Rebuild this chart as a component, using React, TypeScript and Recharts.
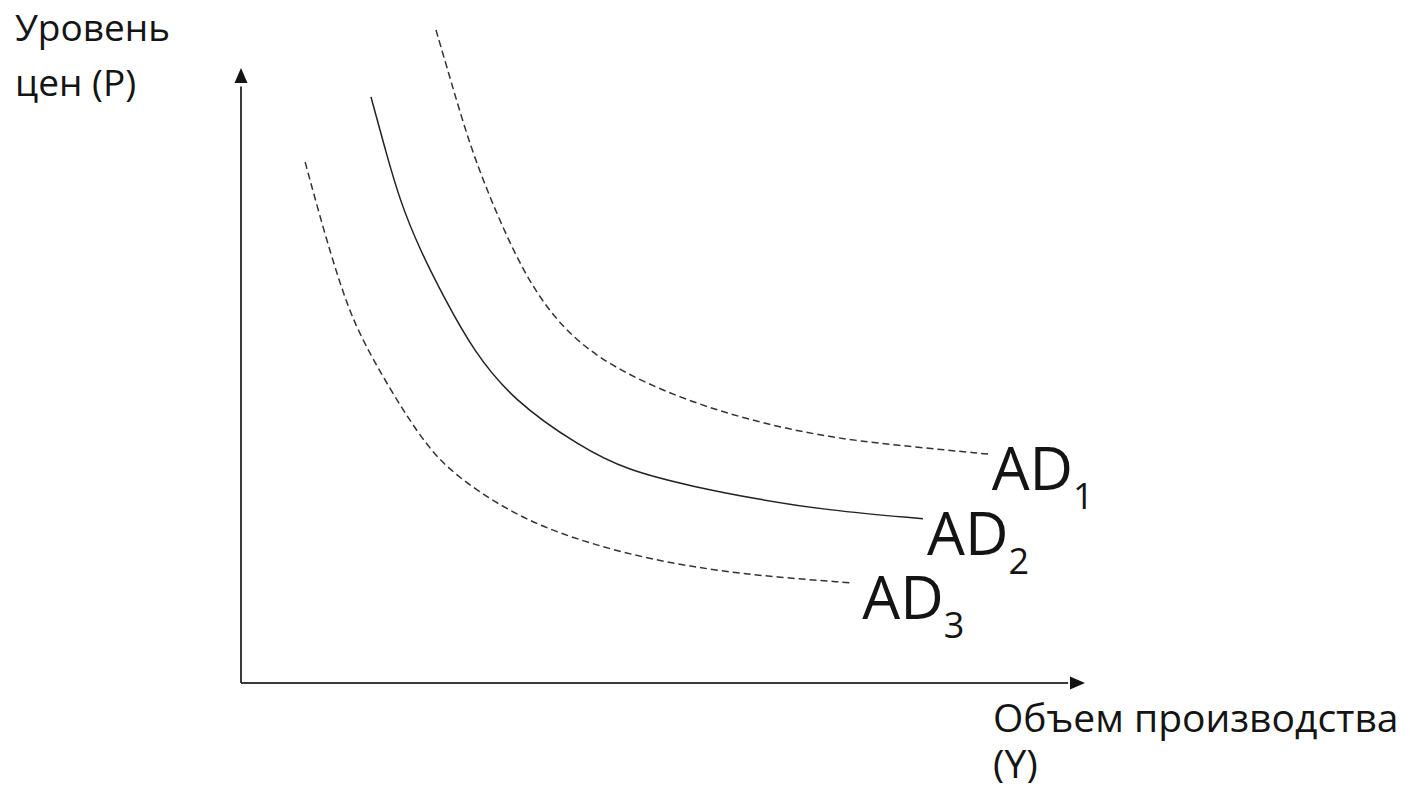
import { LineChart, Line, XAxis, YAxis, ReferenceLine, ReferenceDot } from 'recharts'

// curve points, in axis units (both axes run 0..100 up to the arrow tips)
const ad1X = [23.1, 24.8, 27.1, 29.5, 32.2, 35.4, 39.8, 45.7, 53.6, 61.5, 69.4, 77.3, 88.7]
const ad1Y = [106.2, 98.2, 87.5, 78.9, 70.4, 62.3, 55.3, 50.1, 45.5, 42.3, 40.0, 38.7, 37.2]

const ad2X = [15.4, 17.1, 18.8, 21.2, 24.2, 27.5, 32.2, 40.2, 45.7, 53.6, 61.5, 69.4, 80.8]
const ad2Y = [95.3, 86.7, 78.5, 70.4, 62.3, 54.1, 46.0, 38.4, 34.6, 31.9, 29.8, 28.1, 26.7]

const ad3X = [7.6, 9.7, 11.7, 13.7, 17.7, 22.0, 25.6, 31.5, 37.4, 45.3, 53.2, 61.5, 72.2]
const ad3Y = [84.7, 74.1, 65.0, 57.4, 47.6, 38.4, 33.5, 28.1, 24.4, 21.1, 18.9, 17.4, 16.3]

const curveNames = ['AD', 'AD', 'AD']
const curveSubs = ['1', '2', '3']

const yTitle = ['Уровень', 'цен (P)']
const xTitle = ['Объем производства', '(Y)']

const toPoints = (xs: number[], ys: number[]) => xs.map((x, i) => ({ x, y: ys[i] }))

const ad1 = toPoints(ad1X, ad1Y)
const ad2 = toPoints(ad2X, ad2Y)
const ad3 = toPoints(ad3X, ad3Y)

const FONT = '"Open Sans", "DejaVu Sans", sans-serif'
const INK = '#141414'
const AXIS = '#3a3a3a'

const upArrow = (p: any) => (
  <path d={`M${p.cx},${p.cy} L${p.cx - 6.5},${p.cy + 15} L${p.cx + 6.5},${p.cy + 15} Z`} fill={INK} />
)

const rightArrow = (p: any) => (
  <path d={`M${p.cx},${p.cy} L${p.cx - 15},${p.cy - 6.5} L${p.cx - 15},${p.cy + 6.5} Z`} fill={INK} />
)

const endLabel = (name: string, sub: string, dx: number) => (p: any) => (
  <text x={p.cx + dx} y={p.cy + 36} fontSize={60} fontFamily={FONT} fill={INK}>
    {name}
    <tspan fontSize={36} dy={19}>{sub}</tspan>
  </text>
)

export default function App() {
  const last1 = ad1[ad1.length - 1]
  const last2 = ad2[ad2.length - 1]
  const last3 = ad3[ad3.length - 1]

  return (
    <div style={{ position: 'relative', width: 1394, height: 775 }}>
      <LineChart
        width={1394}
        height={770}
        margin={{ top: 10.8, right: 317, bottom: 95, left: 233 }}
      >
        <XAxis type="number" dataKey="x" domain={[0, 100]} hide allowDataOverflow />
        <YAxis type="number" dataKey="y" domain={[0, 108]} hide allowDataOverflow />

        <ReferenceLine
          segment={[{ x: 0, y: 0 }, { x: 0, y: 97 }]}
          stroke={AXIS}
          strokeWidth={2}
          ifOverflow="visible"
        />
        <ReferenceLine
          segment={[{ x: 0, y: 0 }, { x: 98, y: 0 }]}
          stroke={AXIS}
          strokeWidth={2}
          ifOverflow="visible"
        />
        <ReferenceDot x={0} y={100} ifOverflow="visible" shape={upArrow} />
        <ReferenceDot x={100} y={0} ifOverflow="visible" shape={rightArrow} />

        <Line
          data={ad1}
          dataKey="y"
          type="basis"
          stroke="#333"
          strokeWidth={1.5}
          strokeDasharray="7 4"
          dot={false}
          isAnimationActive={false}
        />
        <Line
          data={ad2}
          dataKey="y"
          type="basis"
          stroke="#222"
          strokeWidth={1.5}
          dot={false}
          isAnimationActive={false}
        />
        <Line
          data={ad3}
          dataKey="y"
          type="basis"
          stroke="#333"
          strokeWidth={1.5}
          strokeDasharray="7 4"
          dot={false}
          isAnimationActive={false}
        />

        <ReferenceDot x={last1.x} y={last1.y} ifOverflow="visible" shape={endLabel(curveNames[0], curveSubs[0], 2)} />
        <ReferenceDot x={last2.x} y={last2.y} ifOverflow="visible" shape={endLabel(curveNames[1], curveSubs[1], 4)} />
        <ReferenceDot x={last3.x} y={last3.y} ifOverflow="visible" shape={endLabel(curveNames[2], curveSubs[2], 12)} />
      </LineChart>

      <svg
        width={1394}
        height={775}
        style={{ position: 'absolute', left: 0, top: 0, pointerEvents: 'none', overflow: 'visible' }}
      >
        <text fontFamily={FONT} fontSize={37} fill={INK}>
          <tspan x={7} y={33}>{yTitle[0]}</tspan>
          <tspan x={7} y={88}>{yTitle[1]}</tspan>
        </text>
        <text fontFamily={FONT} fontSize={39} fill={INK}>
          <tspan x={985} y={724}>{xTitle[0]}</tspan>
          <tspan x={985} y={770}>{xTitle[1]}</tspan>
        </text>
      </svg>
    </div>
  )
}
